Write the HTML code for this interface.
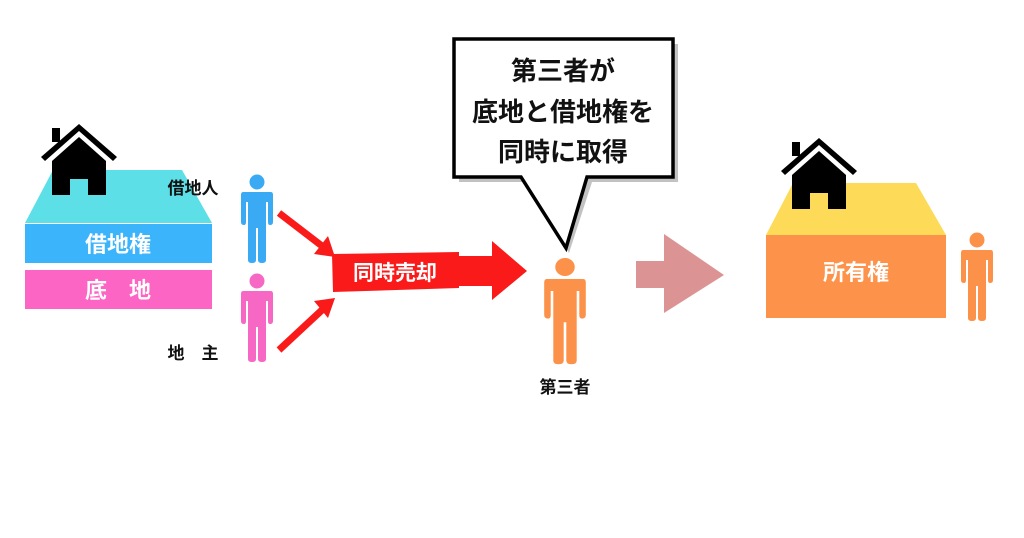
<!DOCTYPE html>
<html><head><meta charset="utf-8"><style>
html,body{margin:0;padding:0;background:#fff;}
svg{display:block}
text{font-family:"Liberation Sans","Noto Sans CJK JP",sans-serif;font-weight:bold;}
</style></head><body>
<svg width="1024" height="538" viewBox="0 0 1024 538" xmlns="http://www.w3.org/2000/svg">
<defs>
<g id="house">
  <path d="M0,0 L-38,33 L-34,37 L0,7 L34,37 L38,33 Z" fill="#000"/>
  <rect x="-27" y="4" width="8" height="14" fill="#000"/>
  <path d="M0,13 L-27,37 L-27,71 L-9,71 L-9,55 L9,55 L9,71 L27,71 L27,37 Z" fill="#000"/>
</g>
<g id="person">
  <circle cx="0" cy="0" r="7.5"/>
  <path d="M-14,10 Q-16,10 -16,13 L-16,40 Q-16,43 -13,43 Q-11,43 -11,40 L-11,20 L-9,20 L-9,78 Q-9,81 -5,81 Q-1,81 -1,78 L-1,46 L1,46 L1,78 Q1,81 5,81 Q9,81 9,78 L9,20 L11,20 L11,40 Q11,43 13,43 Q16,43 16,40 L16,13 Q16,10 14,10 Z"/>
</g>
</defs>

<polygon points="53,170 182,170 212,223 25,223" fill="#5cdfe6"/>
<use href="#house" x="79" y="124"/>
<rect x="25" y="224" width="187" height="39" fill="#3cb4fc"/>
<rect x="25" y="270" width="187" height="39" fill="#fd65c4"/>
<text x="118" y="252" font-size="22" fill="#fff" text-anchor="middle">借地権</text>
<text x="118" y="298" font-size="22" fill="#fff" text-anchor="middle">底　地</text>

<text x="193" y="194" font-size="17" fill="#111" text-anchor="middle">借地人</text>
<text x="193" y="359" font-size="17" fill="#111" text-anchor="middle">地　主</text>
<use href="#person" x="257" y="182" fill="#3aaaf5"/>
<use href="#person" x="257" y="281" fill="#f767c4"/>

<line x1="279" y1="213" x2="322" y2="246" stroke="#fa1a1a" stroke-width="7"/>
<polygon points="335,257 314,254 328,236" fill="#fa1a1a"/>
<line x1="279" y1="350" x2="322" y2="310" stroke="#fa1a1a" stroke-width="7"/>
<polygon points="335,298 314,301 328,318" fill="#fa1a1a"/>

<polygon points="332,254 459,252 459,288 333,292" fill="#fa1a1a"/>
<polygon points="458,256 492,256 492,241 527,271 492,300 492,286 458,286" fill="#fa1a1a"/>
<text x="395" y="280" font-size="21" fill="#fff" text-anchor="middle">同時売却</text>

<polygon points="459,44 678,44 678,182 592,182 569,253 526,182 459,182" fill="#999" opacity="0.6"/>
<path d="M454,39 L673,39 L673,177 L587,177 L566,248 L521,177 L454,177 Z" fill="#fff" stroke="#000" stroke-width="3.5" stroke-linejoin="miter"/>
<text x="563" y="80" font-size="26" fill="#111" text-anchor="middle">第三者が</text>
<text x="563" y="121" font-size="26" fill="#111" text-anchor="middle">底地と借地権を</text>
<text x="563" y="161" font-size="26" fill="#111" text-anchor="middle">同時に取得</text>

<g transform="translate(565,267) scale(1.3,1.2)" fill="#fc914a"><use href="#person"/></g>
<text x="565" y="393" font-size="17" fill="#111" text-anchor="middle">第三者</text>

<polygon points="636,261 664,261 664,234 724,275 664,313 664,288 636,288" fill="#dc9393"/>

<polygon points="793,183 916,183 946,235 766,235" fill="#fddb58"/>
<use href="#house" x="819" y="138"/>
<rect x="766" y="235" width="180" height="83" fill="#fd924b"/>
<text x="856" y="280" font-size="22" fill="#fff" text-anchor="middle">所有権</text>
<use href="#person" x="977" y="240" fill="#fc914a"/>
</svg>
</body></html>
